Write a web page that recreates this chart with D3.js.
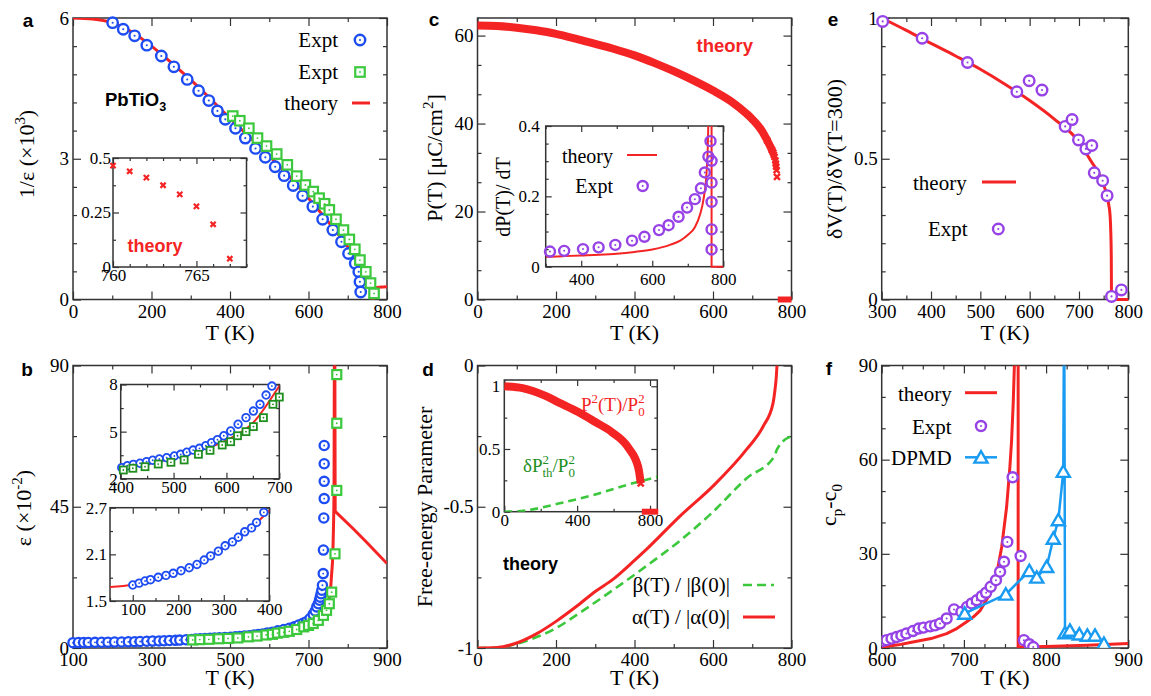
<!DOCTYPE html>
<html><head><meta charset="utf-8">
<script src="https://cdn.jsdelivr.net/npm/d3@7"></script>
<style>body{margin:0;background:#fff}svg{display:block}</style>
</head><body>
<script>
// ---------------- DATA ----------------
// panel a : 1/eps (x10^3)
const aBlueT = [101,128,157,188,225,257,291,320,346,368,388,414,439,465,490,515,538,561,585,611,636,662,684,702,719,728,731,733];
const aBlueV = [5.90,5.76,5.62,5.42,5.19,4.96,4.69,4.45,4.24,4.02,3.84,3.65,3.44,3.22,3.03,2.83,2.64,2.43,2.21,1.98,1.71,1.48,1.23,0.98,0.77,0.59,0.38,0.16];
const aGreenT = [407,425,448,470,493,519,546,570,592,612,627,641,653,670,689,704,718,731,746,758,767];
const aGreenV = [3.91,3.81,3.65,3.44,3.27,3.10,2.87,2.63,2.44,2.30,2.16,2.04,1.91,1.71,1.48,1.28,1.07,0.84,0.59,0.35,0.13];
const aTheoryT = [0,50,100,150,200,250,300,350,400,450,500,550,600,650,700,725,740,750,756,759,761,765,765,800];
const aTheoryV = [6.0,5.98,5.90,5.70,5.40,5.05,4.68,4.28,3.86,3.46,3.06,2.63,2.16,1.66,1.12,0.80,0.58,0.42,0.28,0.16,0.0,0.0,0.24,0.27];
const aInsetT = [760,761,762,763,764,765,766,767];
const aInsetV = [0.465,0.439,0.41,0.375,0.333,0.278,0.196,0.038];

// panel b : eps (x10^-2)
const bBlueT = [100,114,127,139,156,173,189,206,224,241,257,271,288,303,319,332,346,361,372,388,
  402,412.5,424,436.5,449,460.5,473,487,501.5,513.5,525,537,549,561,572,583,595,608,622,637,651,663.5,675,
  686,695,704,712,717,721,725,728,730,732,734,735.5,737.5,738,739,740,740,740,740];
const bBlueV = [1.706,1.73,1.757,1.774,1.805,1.83,1.856,1.89,1.928,1.97,2.027,2.08,2.14,2.21,2.26,2.32,2.39,2.44,2.51,2.64,
  2.71,2.83,2.92,2.99,3.09,3.18,3.26,3.34,3.45,3.56,3.69,3.83,3.94,4.11,4.30,4.49,4.74,5.04,5.47,5.89,6.31,6.74,7.33,
  7.9,8.4,9.4,10.7,11.8,13.1,14.1,15.2,16.2,17.3,18.4,20.0,23.7,31.2,41.4,47.6,53.1,58.7,64.5];
const bGreenT = [405,423,446,471,495,520,547,569,592,608,621,637,651,670,688,700,712,725,738,746,753,759,767.5,772,772,772];
const bGreenV = [2.56,2.67,2.77,2.94,3.05,3.20,3.56,3.81,4.15,4.36,4.74,5.0,5.32,5.89,6.74,7.2,7.8,8.8,10.4,12.0,14.1,17.8,30.0,50.2,71.6,87.1];
const bTheoryT = [50,100,150,200,250,300,350,400,450,500,550,600,650,700,729,746,755,759,762,763,765,766];
const bTheoryV = [1.68,1.71,1.77,1.87,2.0,2.18,2.39,2.66,2.93,3.3,3.8,4.45,5.55,7.9,9.4,12.5,17.3,23.7,30,35,50,100];
const bTheoryHighT = [767,768,814,848,900];
const bTheoryHighV = [100,43.5,38.0,33.7,26.9];

// panel c : P(T)
const cTheoryT = [0,50,100,150,200,250,300,350,400,450,500,550,600,650,686,700,725,738,750,753,755,757,759,760,761,762,763];
const cTheoryV = [62.3,62.2,61.8,61.2,60.4,59.3,58.1,56.9,55.5,53.8,51.9,49.8,47.5,44.8,42.2,41.0,38.3,36.2,34.0,33.4,32.9,32.4,31.6,30.9,30.2,29.4,27.9];
const cZeroT = [765,800];
const cZeroV = [0,0];
const cInsTheoryT = [300,350,400,450,500,550,600,650,680,700,720,735,744,753,756,758,759];
const cInsTheoryV = [0.028,0.030,0.032,0.034,0.037,0.042,0.049,0.062,0.075,0.09,0.112,0.15,0.19,0.27,0.33,0.42,0.5];
const cInsTheory2T = [767,767,800];
const cInsTheory2V = [0.5,0,0];
const cExptT = [312,352,405,449,496,543,578,619,646,674,698,720,737,748,758,764,767,767,767,767,767];
const cExptV = [0.043,0.045,0.05,0.055,0.062,0.074,0.085,0.104,0.118,0.142,0.168,0.192,0.223,0.268,0.313,0.357,0.301,0.239,0.184,0.106,0.049];

// panel d : free-energy parameters
const dAlphaT = [0,50,92,150,202,250,300,346,400,431,516,600,685,728,753,758,761,763];
const dAlphaV = [-1,-0.998,-0.986,-0.95,-0.904,-0.855,-0.80,-0.756,-0.69,-0.65,-0.533,-0.427,-0.298,-0.215,-0.133,-0.085,-0.045,0.0];
const dBetaT = [0,50,100,134,200,261,350,431,516,600,685,757,762,766,800];
const dBetaV = [-1,-0.998,-0.985,-0.97,-0.93,-0.875,-0.79,-0.709,-0.62,-0.518,-0.40,-0.32,-0.30,-0.29,-0.25];
const dInsPT = [0,100,223,300,406,500,590,681,736,749];
const dInsPV = [1.0,0.985,0.925,0.87,0.795,0.715,0.635,0.51,0.35,0.226];
const dInsZeroT = [755,845];
const dInsZeroV = [0,0];
const dInsDPT = [0,60,132,304,487,670,840];
const dInsDPV = [0,0.003,0.013,0.067,0.133,0.212,0.278];

// panel e : dV(T)/dV(300)
const eTheoryT = [300,350,400,450,500,550,600,650,700,725,745,755,760,763,764.5,765.5,766,800];
const eTheoryV = [1.0,0.956,0.91,0.865,0.818,0.765,0.707,0.641,0.56,0.49,0.43,0.38,0.34,0.30,0.24,0.15,0.0,0.0];
const eExptT = [302,382,474,574,599,625,672,686,699,714,726,731,748,757,766,786];
const eExptV = [0.988,0.928,0.842,0.738,0.777,0.744,0.615,0.639,0.567,0.535,0.547,0.45,0.422,0.369,0.011,0.034];

// panel f : cp - c0
const fTheoryT = [600,620,638,660,679,690,703,712,720,732,740,746,752,756,758,760,762,766,766,800,850,900];
const fTheoryV = [0.3,1.0,1.9,3.0,4.6,6.0,8.3,10,12,17.4,23.7,32.2,45,57.8,66,78,95,95,0.3,0.5,0.9,1.4];
const fExptT = [601,606,612,618,624,630,638,645,651,659,665,671,679,688,697,704,709.5,715.6,721.7,727,732.6,739,744,748.8,752.8,759.3,769,773,779.6,784.4];
const fExptV = [2.2,2.5,3.0,3.5,4.0,4.6,5.4,6.2,6.5,6.9,7.2,7.8,9.4,12.3,11.5,13.1,14.2,15.2,16.5,17.6,19.5,21.6,24.3,27.5,33.8,54.4,29.3,2.5,1.2,0.3];
const fDpmdT = [701,751,779.6,788.6,800.7,808.8,814.9,820.9,822,823,829,840.4,850.2,859.5,870.4];
const fDpmdV = [11.0,17.1,24.6,22.5,25.9,34.9,40.8,56.2,120,4.8,5.6,4.4,4.0,4.0,1.4];

// ticks
const aXT=[0,200,400,600,800], aYT=[0,3,6];
const bXT=[100,300,500,700,900], bYT=[0,45,90];
const cXT=[0,200,400,600,800], cYT=[0,20,40,60];
const dXT=[0,200,400,600,800], dYT=[-1,-0.5,0];
const eXT=[300,400,500,600,700,800], eYT=[0,0.5,1];
const fXT=[600,700,800,900], fYT=[0,30,60,90];

// ---------------- DRAWING ----------------
const W=1151,H=696;
const SERIF="Liberation Serif";
const SANS="Liberation Sans";
const RED="#f42424", BLUE="#1d4cf2", GREEN="#3cc83c", DGREEN="#1e8f1e", PURPLE="#9642e6", LBLUE="#1a9bf2";
const svg=d3.select("body").append("svg").attr("width",W).attr("height",H);
svg.append("rect").attr("width",W).attr("height",H).attr("fill","#fff");
const zip=(a,b)=>a.map((v,i)=>[v,b[i]]);
const range=(a,b,s)=>d3.range(a,b+s*0.001,s);
let cid=0;

function panel(o){
  const x=d3.scaleLinear().domain(o.xd).range([o.l,o.r]);
  const y=d3.scaleLinear().domain(o.yd).range([o.b,o.t]);
  const g=svg.append("g");
  if(o.fill) g.append("rect").attr("x",o.l).attr("y",o.t).attr("width",o.r-o.l).attr("height",o.b-o.t).attr("fill","#fff");
  const fs=o.fs||19, big=o.big||8, small=o.small||4;
  const fmt=o.fmt||(d=>String(d));
  const st=sel=>{sel.select(".domain").remove();
    sel.attr("font-family",SERIF).attr("font-size",fs);
    sel.selectAll("line").attr("stroke","#333").attr("stroke-width",1.2);
    sel.selectAll("text").attr("font-family",SERIF).attr("font-size",fs).attr("fill","#000");};
  const xmin=(o.xm||[]).filter(v=>!o.xt.includes(v));
  const ymin=(o.ym||[]).filter(v=>!o.yt.includes(v));
  g.append("g").attr("transform",`translate(0,${o.b})`).call(d3.axisBottom(x).tickValues(o.xt).tickSize(-big).tickPadding(o.xpad??5).tickFormat(fmt)).call(st);
  g.append("g").attr("transform",`translate(0,${o.b})`).call(d3.axisBottom(x).tickValues(xmin).tickSize(-small).tickFormat("")).call(st);
  g.append("g").attr("transform",`translate(0,${o.t})`).call(d3.axisTop(x).tickValues(o.xt).tickSize(-big).tickFormat("")).call(st);
  g.append("g").attr("transform",`translate(0,${o.t})`).call(d3.axisTop(x).tickValues(xmin).tickSize(-small).tickFormat("")).call(st);
  g.append("g").attr("transform",`translate(${o.l},0)`).call(d3.axisLeft(y).tickValues(o.yt).tickSize(-big).tickPadding(o.ypad??4).tickFormat(fmt)).call(st);
  g.append("g").attr("transform",`translate(${o.l},0)`).call(d3.axisLeft(y).tickValues(ymin).tickSize(-small).tickFormat("")).call(st);
  g.append("g").attr("transform",`translate(${o.r},0)`).call(d3.axisRight(y).tickValues(o.yt).tickSize(-big).tickFormat("")).call(st);
  g.append("g").attr("transform",`translate(${o.r},0)`).call(d3.axisRight(y).tickValues(ymin).tickSize(-small).tickFormat("")).call(st);
  g.append("rect").attr("x",o.l).attr("y",o.t).attr("width",o.r-o.l).attr("height",o.b-o.t)
    .attr("fill","none").attr("stroke","#333").attr("stroke-width",1.5);
  const id="clip"+(cid++);
  svg.append("clipPath").attr("id",id).append("rect").attr("x",o.l).attr("y",o.t).attr("width",o.r-o.l).attr("height",o.b-o.t);
  const clipped=svg.append("g").attr("clip-path",`url(#${id})`);
  const free=svg.append("g");
  return {x,y,g,clipped,free};
}
function line(g,data,x,y,c,w,dash,curve){
  const p=g.append("path").datum(data)
    .attr("d",d3.line().x(d=>x(d[0])).y(d=>y(d[1])).curve(curve||d3.curveLinear))
    .attr("fill","none").attr("stroke",c).attr("stroke-width",w).attr("stroke-linejoin","round");
  if(dash) p.attr("stroke-dasharray",dash);
  return p;
}
function circles(g,data,x,y,c,r,sw,fill){
  const s=g.append("g").selectAll("g").data(data).join("g").attr("transform",d=>`translate(${x(d[0])},${y(d[1])})`);
  s.append("circle").attr("r",r).attr("fill",fill===undefined?"#fff":fill).attr("stroke",c).attr("stroke-width",sw);
  s.append("circle").attr("r",Math.max(0.9,r*0.2)).attr("fill",c);
}
function squares(g,data,x,y,c,a,sw){
  const s=g.append("g").selectAll("g").data(data).join("g").attr("transform",d=>`translate(${x(d[0])},${y(d[1])})`);
  s.append("rect").attr("x",-a/2).attr("y",-a/2).attr("width",a).attr("height",a).attr("fill","#fff").attr("stroke",c).attr("stroke-width",sw);
  s.append("circle").attr("r",0.9).attr("fill",c);
}
function tris(g,data,x,y,c,area,sw){
  g.append("g").selectAll("path").data(data).join("path")
    .attr("transform",d=>`translate(${x(d[0])},${y(d[1])+1.5})`)
    .attr("d",d3.symbol(d3.symbolTriangle,area)()).attr("fill","#fff").attr("stroke",c).attr("stroke-width",sw);
}
function crosses(g,data,x,y,c,a,sw){
  g.append("g").selectAll("path").data(data).join("path")
    .attr("transform",d=>`translate(${x(d[0])},${y(d[1])})`)
    .attr("d",`M${-a},${-a}L${a},${a}M${-a},${a}L${a},${-a}`).attr("stroke",c).attr("stroke-width",sw).attr("fill","none");
}
function txt(x,y,s,o={}){
  return svg.append("text").attr("x",x).attr("y",y).attr("font-family",o.ff||SERIF).attr("font-size",o.fs||21)
    .attr("text-anchor",o.anchor||"start").attr("fill",o.fill||"#000").attr("font-weight",o.fw||"normal").text(s);
}
// parts: [string, "n"|"sup"|"sub"]
function rich(t,parts,fs){
  let shift=0;
  parts.forEach(([s,k])=>{
    const target = k==="sup"?-0.42*fs:(k==="sub"?0.25*fs:0);
    const ts=t.append("tspan").attr("dy",target-shift).text(s);
    if(k!=="n") ts.attr("font-size",fs*0.68);
    shift=target;
  });
  return t;
}
function ytitle(x,y,parts,fs,o={}){
  const t=svg.append("text").attr("transform",`translate(${x},${y}) rotate(-90)`).attr("text-anchor","middle")
    .attr("font-family",SERIF).attr("font-size",fs).attr("fill",o.fill||"#000");
  rich(t,parts,fs);
}
function xtitle(p,yb){ txt((p.x.range()[0]+p.x.range()[1])/2,yb,"T (K)",{fs:22,anchor:"middle"}); }

// ===== Panel a =====
const pa=panel({l:73,r:387,t:18,b:299.5,xd:[0,800],yd:[0,6],xt:aXT,yt:aYT,xm:range(0,800,100),ym:range(0,6,0.6)});
circles(pa.free,zip(aBlueT,aBlueV),pa.x,pa.y,BLUE,5.2,2.4);
squares(pa.free,zip(aGreenT,aGreenV),pa.x,pa.y,GREEN,9.5,2.2);
line(pa.clipped,zip(aTheoryT,aTheoryV),pa.x,pa.y,RED,3,null,d3.curveMonotoneX);
const pai=panel({l:113,r:246.5,t:158,b:267,xd:[760,768],yd:[0,0.5],xt:[760,765],yt:[0,0.25,0.5],xm:range(760,768,1),ym:range(0,0.5,0.125),fs:17,big:6,small:3,xpad:2,ypad:2,fill:true});
crosses(pai.free,zip(aInsetT,aInsetV),pai.x,pai.y,RED,2.6,2.2);
txt(127.5,251.5,"theory",{ff:SANS,fw:"bold",fs:18,fill:RED});
{ const t=txt(105,106,"",{ff:SANS,fw:"bold",fs:18.5}); rich(t,[["PbTiO","n"],["3","sub"]],18.5); }
txt(338,47,"Expt",{anchor:"end"}); txt(338,79,"Expt",{anchor:"end"}); txt(338,110,"theory",{anchor:"end"});
circles(svg,[[0,0]],()=>360,()=>40,BLUE,5.2,2.4);
squares(svg,[[0,0]],()=>360,()=>72,GREEN,9.5,2.2);
line(svg,[[352,103],[370,103]],d=>d,d=>d,RED,3);
ytitle(34,154,[["1/ε (×10","n"],["3","sup"],[")","n"]],22);
xtitle(pa,340);

// ===== Panel b =====
const pb=panel({l:73,r:387,t:365.5,b:648,xd:[100,900],yd:[0,90],xt:bXT,yt:bYT,xm:range(100,900,100),ym:range(0,90,22.5)});
circles(pb.free,zip(bBlueT,bBlueV),pb.x,pb.y,BLUE,4.6,2.3);
squares(pb.free,zip(bGreenT,bGreenV),pb.x,pb.y,GREEN,9,2.2);
line(pb.clipped,zip(bTheoryT,bTheoryV),pb.x,pb.y,RED,3,null,d3.curveMonotoneX);
line(pb.clipped,zip(bTheoryHighT,bTheoryHighV),pb.x,pb.y,RED,3,null,d3.curveLinear);
const pb1=panel({l:120.7,r:279.3,t:384.5,b:478.8,xd:[400,700],yd:[2,8],xt:[400,500,600,700],yt:[2,5,8],xm:range(400,700,50),ym:range(2,8,1.5),fs:17,big:6,small:3,xpad:2,ypad:3,fill:true});
circles(pb1.free,zip(bBlueT,bBlueV).filter(d=>d[0]>=398&&d[0]<=700&&d[1]<=8),pb1.x,pb1.y,BLUE,3.8,1.8);
squares(pb1.free,zip(bGreenT,bGreenV).filter(d=>d[0]<=700&&d[1]<=8),pb1.x,pb1.y,DGREEN,7,1.8);
line(pb1.clipped,zip(bTheoryT,bTheoryV),pb1.x,pb1.y,RED,2,null,d3.curveMonotoneX);
const pb2=panel({l:110,r:269.3,t:507.7,b:601,xd:[50,400],yd:[1.5,2.7],xt:[100,200,300,400],yt:[1.5,2.1,2.7],xm:range(50,400,50),ym:range(1.5,2.7,0.3),fs:17,big:6,small:3,xpad:2,ypad:3,fill:true});
circles(pb2.free,zip(bBlueT,bBlueV).filter(d=>d[0]<=400),pb2.x,pb2.y,BLUE,3.8,1.8);
line(pb2.clipped,zip(bTheoryT,bTheoryV),pb2.x,pb2.y,RED,2,null,d3.curveMonotoneX);
ytitle(31,508,[["ε (×10","n"],["-2","sup"],[")","n"]],22);
xtitle(pb,685);

// ===== Panel c =====
const pc=panel({l:477.5,r:791.5,t:18,b:299.5,xd:[0,800],yd:[0,64],xt:cXT,yt:cYT,xm:range(0,800,100),ym:range(0,60,20/3)});
line(pc.free,zip(cTheoryT,cTheoryV).filter(d=>d[0]<=753),pc.x,pc.y,RED,8,null,d3.curveMonotoneX);
crosses(pc.free,zip(cTheoryT,cTheoryV).filter(d=>d[0]>=738),pc.x,pc.y,RED,3,2.4);
line(pc.free,zip(cZeroT,cZeroV),pc.x,pc.y,RED,6);
txt(696.5,52,"theory",{ff:SANS,fw:"bold",fs:18.5,fill:RED});
const pci=panel({l:545.7,r:723.3,t:126,b:266.7,xd:[300,800],yd:[0,0.4],xt:[400,600,800],yt:[0,0.2,0.4],xm:range(300,800,100),ym:range(0,0.4,0.05),fs:17,big:6,small:3,xpad:6,ypad:6,fill:true});
line(pci.clipped,zip(cInsTheoryT,cInsTheoryV),pci.x,pci.y,RED,2,null,d3.curveMonotoneX);
line(pci.free,zip(cInsTheory2T,cInsTheory2V).map(d=>[d[0],Math.min(d[1],0.4)]),pci.x,pci.y,RED,2);
circles(pci.free,zip(cExptT,cExptV),pci.x,pci.y,PURPLE,5,2.4,"none");
txt(613,163,"theory",{anchor:"end",fs:20}); txt(613,193,"Expt",{anchor:"end",fs:20});
line(svg,[[627,155],[657,155]],d=>d,d=>d,RED,2);
circles(svg,[[0,0]],()=>642.7,()=>186,PURPLE,5,2.4,"none");
ytitle(510,197,[["dP(T)/ dT","n"]],20);
ytitle(442,158,[["P(T) [μC/cm","n"],["2","sup"],["]","n"]],22);
xtitle(pc,340);

// ===== Panel d =====
const pd=panel({l:477.5,r:791.5,t:365.5,b:648,xd:[0,800],yd:[-1,0],xt:dXT,yt:dYT,xm:range(0,800,100),ym:range(-1,0,0.25)});
line(pd.clipped,zip(dBetaT,dBetaV),pd.x,pd.y,GREEN,2.6,"9,5",d3.curveMonotoneX);
line(pd.clipped,zip(dAlphaT,dAlphaV),pd.x,pd.y,RED,3,null,d3.curveMonotoneX);
const pdi=panel({l:504.3,r:657.3,t:380,b:511.7,xd:[0,840],yd:[0,1.05],xt:[0,400,800],yt:[0,0.5,1],xm:range(0,800,200),ym:range(0,1,0.25),fs:17,big:6,small:3,xpad:2,ypad:4,fill:true});
line(pdi.clipped,zip(dInsDPT,dInsDPV),pdi.x,pdi.y,GREEN,2.6,"8,5",d3.curveMonotoneX);
line(pdi.free,zip(dInsPT,dInsPV),pdi.x,pdi.y,RED,8,null,d3.curveMonotoneX);
crosses(pdi.free,zip(dInsPT,dInsPV).filter(d=>d[0]>=736),pdi.x,pdi.y,RED,3,2.4);
line(pdi.free,zip(dInsZeroT,dInsZeroV),pdi.x,pdi.y,RED,6);
{ const fs=19; const t=txt(581,410.5,"",{fs,fill:RED});
  t.append("tspan").text("P");
  t.append("tspan").attr("dy",-0.42*fs).attr("font-size",fs*0.68).text("2");
  t.append("tspan").attr("dy",0.42*fs).text("(T)/P");
  t.append("tspan").attr("dy",-0.42*fs).attr("font-size",fs*0.68).text("2");
  t.append("tspan").attr("dx",-fs*0.34).attr("dy",0.72*fs).attr("font-size",fs*0.68).text("0");
}
{ const fs=19; const t=txt(523,471.5,"",{fs,fill:DGREEN});
  t.append("tspan").text("δP");
  t.append("tspan").attr("dy",-0.42*fs).attr("font-size",fs*0.68).text("2");
  t.append("tspan").attr("dx",-fs*0.34).attr("dy",0.72*fs).attr("font-size",fs*0.68).text("th");
  t.append("tspan").attr("dy",-0.30*fs).text("/P");
  t.append("tspan").attr("dy",-0.42*fs).attr("font-size",fs*0.68).text("2");
  t.append("tspan").attr("dx",-fs*0.34).attr("dy",0.72*fs).attr("font-size",fs*0.68).text("0");
}
txt(503,570,"theory",{ff:SANS,fw:"bold",fs:18});
txt(730,592,"β(T) / |β(0)|",{anchor:"end"}); txt(730,624,"α(T) / |α(0)|",{anchor:"end"});
line(svg,[[743,585],[774,585]],d=>d,d=>d,GREEN,2.6,"9,5");
line(svg,[[743,617],[775,617]],d=>d,d=>d,RED,3);
ytitle(432,507,[["Free-energy Parameter","n"]],22);
xtitle(pd,685);

// ===== Panel e =====
const pe=panel({l:881.7,r:1128.3,t:18,b:299.5,xd:[300,800],yd:[0,1],xt:eXT,yt:eYT,xm:range(300,800,50),ym:range(0,1,0.1)});
line(pe.free,zip(eTheoryT,eTheoryV),pe.x,pe.y,RED,3,null,d3.curveMonotoneX);
circles(pe.free,zip(eExptT,eExptV),pe.x,pe.y,PURPLE,5.3,2.4);
txt(966.7,190,"theory",{anchor:"end"}); txt(967.7,236,"Expt",{anchor:"end"});
line(svg,[[982,182],[1016,182]],d=>d,d=>d,RED,3);
circles(svg,[[0,0]],()=>998.3,()=>229,PURPLE,5.3,2.4);
ytitle(842,159,[["δV(T)/δV(T=300)","n"]],22);
xtitle(pe,340);

// ===== Panel f =====
const pf=panel({l:881.7,r:1128.3,t:365.5,b:648,xd:[600,900],yd:[0,90],xt:fXT,yt:fYT,xm:range(600,900,25),ym:range(0,90,10)});
line(pf.clipped,zip(fTheoryT,fTheoryV),pf.x,pf.y,RED,3,null,d3.curveLinear);
circles(pf.clipped,zip(fExptT,fExptV),pf.x,pf.y,PURPLE,5,2.4);
line(pf.clipped,zip(fDpmdT,fDpmdV),pf.x,pf.y,LBLUE,2.5);
tris(pf.clipped,zip(fDpmdT,fDpmdV),pf.x,pf.y,LBLUE,75,2.4);
txt(951.7,401,"theory",{anchor:"end"}); txt(951.7,434,"Expt",{anchor:"end"}); txt(951.7,465,"DPMD",{anchor:"end"});
line(svg,[[965,392.7],[997,392.7]],d=>d,d=>d,RED,3);
circles(svg,[[0,0]],()=>981,()=>426,PURPLE,5,2.4);
line(svg,[[965,457.3],[997,457.3]],d=>d,d=>d,LBLUE,2.5);
tris(svg,[[0,0]],()=>981,()=>457.3,LBLUE,75,2.4);
{ const fs=22; const t=svg.append("text").attr("transform","translate(836,505) rotate(-90)").attr("text-anchor","middle").attr("font-family",SERIF).attr("font-size",fs);
  rich(t,[["c","n"],["p","sub"],["-c","n"],["0","sub"]],fs); }
xtitle(pf,685);

// panel letters
[["a",28,27],["b",27,376],["c",434,26],["d",428,376],["e",833,26],["f",829,375]].forEach(([s,x,y])=>
  txt(x,y,s,{ff:SANS,fw:"bold",fs:19,anchor:"middle"}));
</script>
</body></html>
